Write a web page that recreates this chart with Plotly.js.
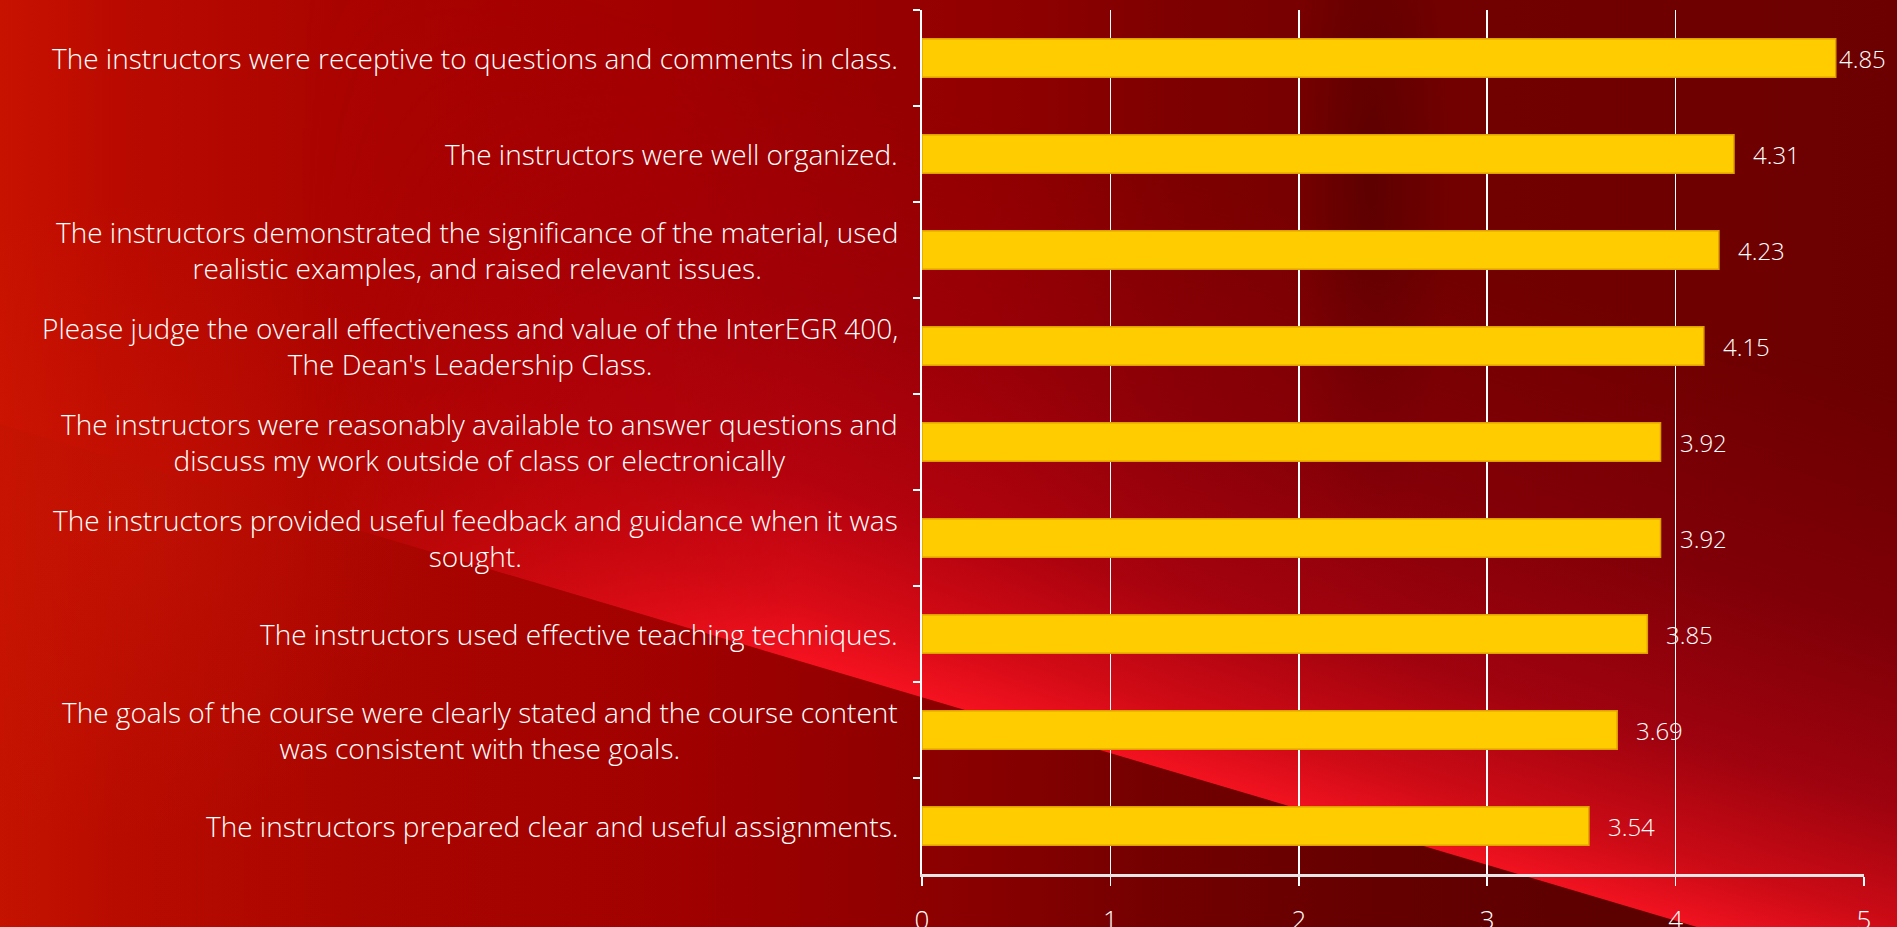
<!DOCTYPE html>
<html>
<head>
<meta charset="utf-8">
<script src="https://cdn.plot.ly/plotly-3.0.1.min.js"></script>
<style>
  html, body { margin: 0; padding: 0; width: 1897px; height: 927px; overflow: hidden; }
  body {
    position: relative;
    background:
      linear-gradient(90deg, #c81200 0%, #ba0a00 6%, #aa0400 18%, #a20000 35%, #920000 52%, #7e0000 62%, #720000 75%, #6c0000 100%);
  }
  #dark {
    position: absolute; left: 0; top: 0; width: 1897px; height: 927px;
    background:
      radial-gradient(ellipse 80px 380px at 1370px 180px, rgba(50,0,0,0.35), rgba(50,0,0,0) 100%),
      radial-gradient(ellipse 320px 320px at 120px 520px, rgba(220,30,10,0.3), rgba(220,30,10,0) 100%);
  }
  #swoosh {
    position: absolute; left: 0; top: 0; width: 1897px; height: 927px;
    clip-path: polygon(0px 424px, 1700px 928px, 1897px 928px, 1897px 0px, 0px 0px);
    background: linear-gradient(16.5deg, rgba(255,25,35,0) 0%, rgba(255,25,35,0) 33.6%, rgba(255,20,35,0.9) 33.8%, rgba(240,15,30,0.72) 38%, rgba(205,5,28,0.5) 46%, rgba(175,0,25,0.28) 58%, rgba(150,0,20,0) 74%);
    -webkit-mask-image: linear-gradient(90deg, rgba(0,0,0,0) 300px, rgba(0,0,0,1) 800px);
    mask-image: linear-gradient(90deg, rgba(0,0,0,0) 300px, rgba(0,0,0,1) 800px);
  }
  #below {
    position: absolute; left: 0; top: 0; width: 1897px; height: 927px;
    clip-path: polygon(0px 424px, 1700px 928px, 0px 928px);
    background: linear-gradient(90deg, rgba(180,20,0,0.2) 0%, rgba(120,0,0,0.05) 40%, rgba(70,0,0,0.45) 85%);
  }
  #chart { position: absolute; left: 0; top: 0; }
</style>
</head>
<body>
<div id="dark"></div>
<div id="below"></div>
<div id="swoosh"></div>
<div id="chart"></div>
<script>
const categories = [
  "The instructors were receptive to questions and comments in class.",
  "The instructors were well organized.",
  "The instructors demonstrated the significance of the material, used<br>realistic examples, and raised relevant issues.",
  "Please judge the overall effectiveness and value of the InterEGR 400,<br>The Dean's Leadership Class.",
  "The instructors were reasonably available to answer questions and<br>discuss my work outside of class or electronically",
  "The instructors provided useful feedback and guidance when it was<br>sought.",
  "The instructors used effective teaching techniques.",
  "The goals of the course were clearly stated and the course content<br>was consistent with these goals.",
  "The instructors prepared clear and useful assignments."
];
const values = [4.85, 4.31, 4.23, 4.15, 3.92, 3.92, 3.85, 3.69, 3.54];
const xTicks = [0, 1, 2, 3, 4, 5];
const xRange = [0, 5];

const W = 1897, H = 927;
const margin = {l: 922, r: 33, t: 10, b: 53, pad: 0};
const plotW = W - margin.l - margin.r;
const pxPerUnit = plotW / (xRange[1] - xRange[0]);
const FONT = "'Open Sans', Lato, 'DejaVu Sans', sans-serif";

const trace = {
  type: 'bar',
  orientation: 'h',
  x: values,
  y: categories,
  marker: {color: '#FFCC00', line: {color: '#E0A000', width: 1.5}},
  hoverinfo: 'none'
};

const annotations = [];
categories.forEach(function (c) {
  annotations.push({
    xref: 'paper', yref: 'y', x: 0, y: c,
    xanchor: 'right', yanchor: 'middle', align: 'center',
    xshift: -22, showarrow: false, text: c,
    font: {family: FONT, size: 28, color: '#ffffff', weight: 300}
  });
});
const labelW = 54;
values.forEach(function (v, i) {
  const barEnd = margin.l + v * pxPerUnit;
  const shift = Math.min(17, (W - 6) - labelW - barEnd);
  annotations.push({
    xref: 'x', yref: 'y', x: v, y: categories[i],
    xanchor: 'left', yanchor: 'middle', xshift: shift,
    showarrow: false, text: v.toFixed(2),
    font: {family: FONT, size: 24, color: '#ffffff', weight: 300}
  });
});

const layout = {
  width: W, height: H,
  margin: margin,
  paper_bgcolor: 'rgba(0,0,0,0)',
  plot_bgcolor: 'rgba(0,0,0,0)',
  showlegend: false,
  bargap: 0.6,
  font: {family: FONT, color: '#ffffff'},
  xaxis: {
    range: xRange, tickvals: xTicks, ticktext: xTicks.map(String),
    showgrid: true, gridcolor: '#ffffff', gridwidth: 1.5,
    zeroline: false,
    showline: true, linecolor: '#e6e6e6', linewidth: 3,
    ticks: 'outside', ticklen: 9, tickcolor: '#ffffff', tickwidth: 1.5,
    tickfont: {family: FONT, size: 26, color: '#ffffff', weight: 300},
    ticklabelstandoff: 12,
    fixedrange: true
  },
  yaxis: {
    type: 'category', autorange: 'reversed',
    showticklabels: false,
    tickson: 'boundaries', ticks: 'outside', ticklen: 7, tickcolor: '#ffffff', tickwidth: 2,
    showgrid: false, zeroline: false,
    showline: true, linecolor: '#ffffff', linewidth: 2,
    fixedrange: true
  },
  annotations: annotations
};

Plotly.newPlot('chart', [trace], layout, {displayModeBar: false, staticPlot: true});
</script>
</body>
</html>
